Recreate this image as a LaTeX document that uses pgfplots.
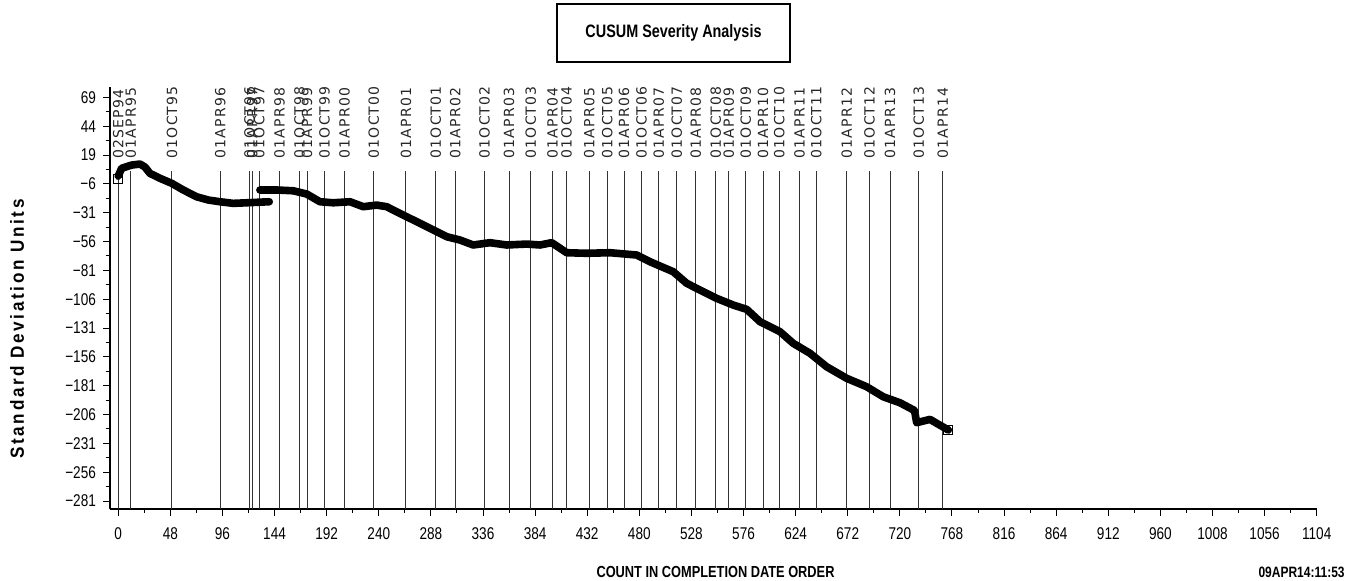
\documentclass[border=0pt]{standalone}
\usepackage{fontspec}
\usepackage{pgfplots}
\usepackage{pgfplotstable}
\pgfplotsset{compat=1.18}
\setmainfont{Liberation Sans}
\newfontfamily\narrow{Liberation Sans}[FakeStretch=0.8]
\newfontfamily\reffont{DejaVu Sans}[LetterSpace=8]
\newfontfamily\ylabfont{Liberation Sans}[LetterSpace=14,FakeStretch=0.9]

\pgfplotstableread{
c top lab
0 16 02SEP94
11.5 16 01APR95
49.5 16 01OCT95
94 16 01APR96
121 16 01OCT96
123.5 16 01APR97
130 16 01OCT97
148.5 16 01APR98
167 16 01OCT98
174 16 01APR99
190 16 01OCT99
208.5 16 01APR00
235.5 16 01OCT00
265 16 01APR01
292.5 16 01OCT01
310.5 16 01APR02
337.5 16 01OCT02
360 16 01APR03
380 16 01OCT03
400 16 01APR04
413 16 01OCT04
434 16 01APR05
450.5 16 01OCT05
466 16 01APR06
482 16 01OCT06
498 16 01APR07
514.5 16 01OCT07
532 16 01APR08
550.5 16 01OCT08
562.5 16 01APR09
578 16 01OCT09
594 16 01APR10
609 16 01OCT10
627.5 16 01APR11
643 16 01OCT11
671 16 01APR12
692 16 01OCT12
711 16 01APR13
737.5 16 01OCT13
759.5 16 01APR14
}\reflines

% vertical reference lines: bottom, top, gap
\pgfplotstableread{
x y
0 -287.9
0 5
0 nan
11.5 -287.9
11.5 5
11.5 nan
49.5 -287.9
49.5 5
49.5 nan
94 -287.9
94 5
94 nan
121 -287.9
121 5
121 nan
123.5 -287.9
123.5 5
123.5 nan
130 -287.9
130 5
130 nan
148.5 -287.9
148.5 5
148.5 nan
167 -287.9
167 5
167 nan
174 -287.9
174 5
174 nan
190 -287.9
190 5
190 nan
208.5 -287.9
208.5 5
208.5 nan
235.5 -287.9
235.5 5
235.5 nan
265 -287.9
265 5
265 nan
292.5 -287.9
292.5 5
292.5 nan
310.5 -287.9
310.5 5
310.5 nan
337.5 -287.9
337.5 5
337.5 nan
360 -287.9
360 5
360 nan
380 -287.9
380 5
380 nan
400 -287.9
400 5
400 nan
413 -287.9
413 5
413 nan
434 -287.9
434 5
434 nan
450.5 -287.9
450.5 5
450.5 nan
466 -287.9
466 5
466 nan
482 -287.9
482 5
482 nan
498 -287.9
498 5
498 nan
514.5 -287.9
514.5 5
514.5 nan
532 -287.9
532 5
532 nan
550.5 -287.9
550.5 5
550.5 nan
562.5 -287.9
562.5 5
562.5 nan
578 -287.9
578 5
578 nan
594 -287.9
594 5
594 nan
609 -287.9
609 5
609 nan
627.5 -287.9
627.5 5
627.5 nan
643 -287.9
643 5
643 nan
671 -287.9
671 5
671 nan
692 -287.9
692 5
692 nan
711 -287.9
711 5
711 nan
737.5 -287.9
737.5 5
737.5 nan
759.5 -287.9
759.5 5
759.5 nan
}\reflinesegs

\pgfplotstableread{
x y
0 0.8
3.1 7.5
12.3 10.3
20 11.2
24.6 8.6
29.2 3.1
38.5 -1.2
49.2 -5.5
59.9 -11.3
72.2 -17.2
82.9 -20
93.7 -21.5
105.9 -22.9
118.3 -22.4
139.1 -21.5
}\segA

\pgfplotstableread{
x y
130.5 -11.3
145.9 -11.3
161.2 -12
173.6 -14.8
185.8 -21.5
198.1 -22.4
213.5 -21.5
225.7 -25.8
238 -24.4
247.3 -25.8
253.3 -28.7
265.7 -34.5
277.9 -40.2
290.2 -46
302.5 -51.8
314.8 -54.7
327 -59
342.4 -57
357.8 -59
376.2 -58.2
388.5 -59
399.3 -57
413.1 -65.7
431.5 -66.2
453 -65.7
477.6 -67.7
489.8 -73.5
511.3 -82.2
523.6 -92.2
535.9 -98.1
551.3 -105.3
566.6 -111.1
578.9 -114.8
591.2 -125.5
609.6 -134.2
621.8 -144.3
637.2 -152.9
652.6 -164.6
671 -174.6
689.4 -181.9
704.7 -190.6
720.1 -195.8
733.5 -202.5
735.5 -213.1
747.8 -210.2
753.9 -213.6
764.6 -219.4
}\segB

\begin{document}
\begin{tikzpicture}
\path[use as bounding box] (0,0) rectangle (674pt,290.5pt);
\begin{axis}[
  at={(55pt,36pt)}, anchor=south west,
  scale only axis, width=603.35pt, height=211pt,
  xmin=-7.6, xmax=1104, ymin=-287.9, ymax=78,
  axis x line*=bottom, axis y line*=left,
  axis line style={line width=0.6pt,-},
  tick align=outside,
  major tick length=3.5pt, minor tick length=2pt,
  tick style={black, line width=0.5pt},
  minor x tick num=1, minor y tick num=1,
  xtick={0,48,96,144,192,240,288,336,384,432,480,528,576,624,672,720,768,816,864,912,960,1008,1056,1104},
  xticklabels={0,48,96,144,192,240,288,336,384,432,480,528,576,624,672,720,768,816,864,912,960,1008,1056,1104},
  ytick={-281,-256,-231,-206,-181,-156,-131,-106,-81,-56,-31,-6,19,44,69},
  yticklabels={−281,−256,−231,−206,−181,−156,−131,−106,−81,−56,−31,−6,19,44,69},
  tick label style={font=\narrow\fontsize{8.5}{10}\selectfont},
  xticklabel style={yshift=-2.5pt},
  clip=false,
  unbounded coords=jump,
]
\addplot[black!80, line width=0.5pt, mark=none, forget plot] table[x=x, y=y]{\reflinesegs};
\addplot[black, line width=3.8pt, line join=round, line cap=round, mark=none] table[x=x,y=y]{\segA};
\addplot[black, line width=3.8pt, line join=round, line cap=round, mark=none] table[x=x,y=y]{\segB};
\addplot[only marks, mark=square, mark size=2.2pt, black, fill=white, line width=0.5pt] coordinates {(0,-1.5) (764.6,-219.4)};
\addplot[only marks, mark=none,
  nodes near coords, point meta=explicit symbolic,
  every node near coord/.append style={rotate=90, anchor=west, inner sep=0pt,
    font=\reffont\fontsize{7}{8}\selectfont, black!85}]
  table[x=c, y=top, meta=lab]{\reflines};
\end{axis}
\node[draw, line width=0.6pt, minimum width=116.5pt, minimum height=29pt, inner sep=0pt]
  at (336.75pt,274pt) {\narrow\bfseries\fontsize{9}{10}\selectfont CUSUM Severity Analysis};
\node[rotate=90] at (8.5pt,126pt) {\ylabfont\bfseries\fontsize{9.5}{10}\selectfont Standard Deviation Units};
\node at (357.75pt,4.5pt) {\narrow\bfseries\fontsize{8}{9}\selectfont COUNT IN COMPLETION DATE ORDER};
\node[anchor=east, inner sep=0pt] at (672.5pt,4.5pt) {\narrow\bfseries\fontsize{7.5}{8}\selectfont 09APR14:11:53};
\end{tikzpicture}
\end{document}
